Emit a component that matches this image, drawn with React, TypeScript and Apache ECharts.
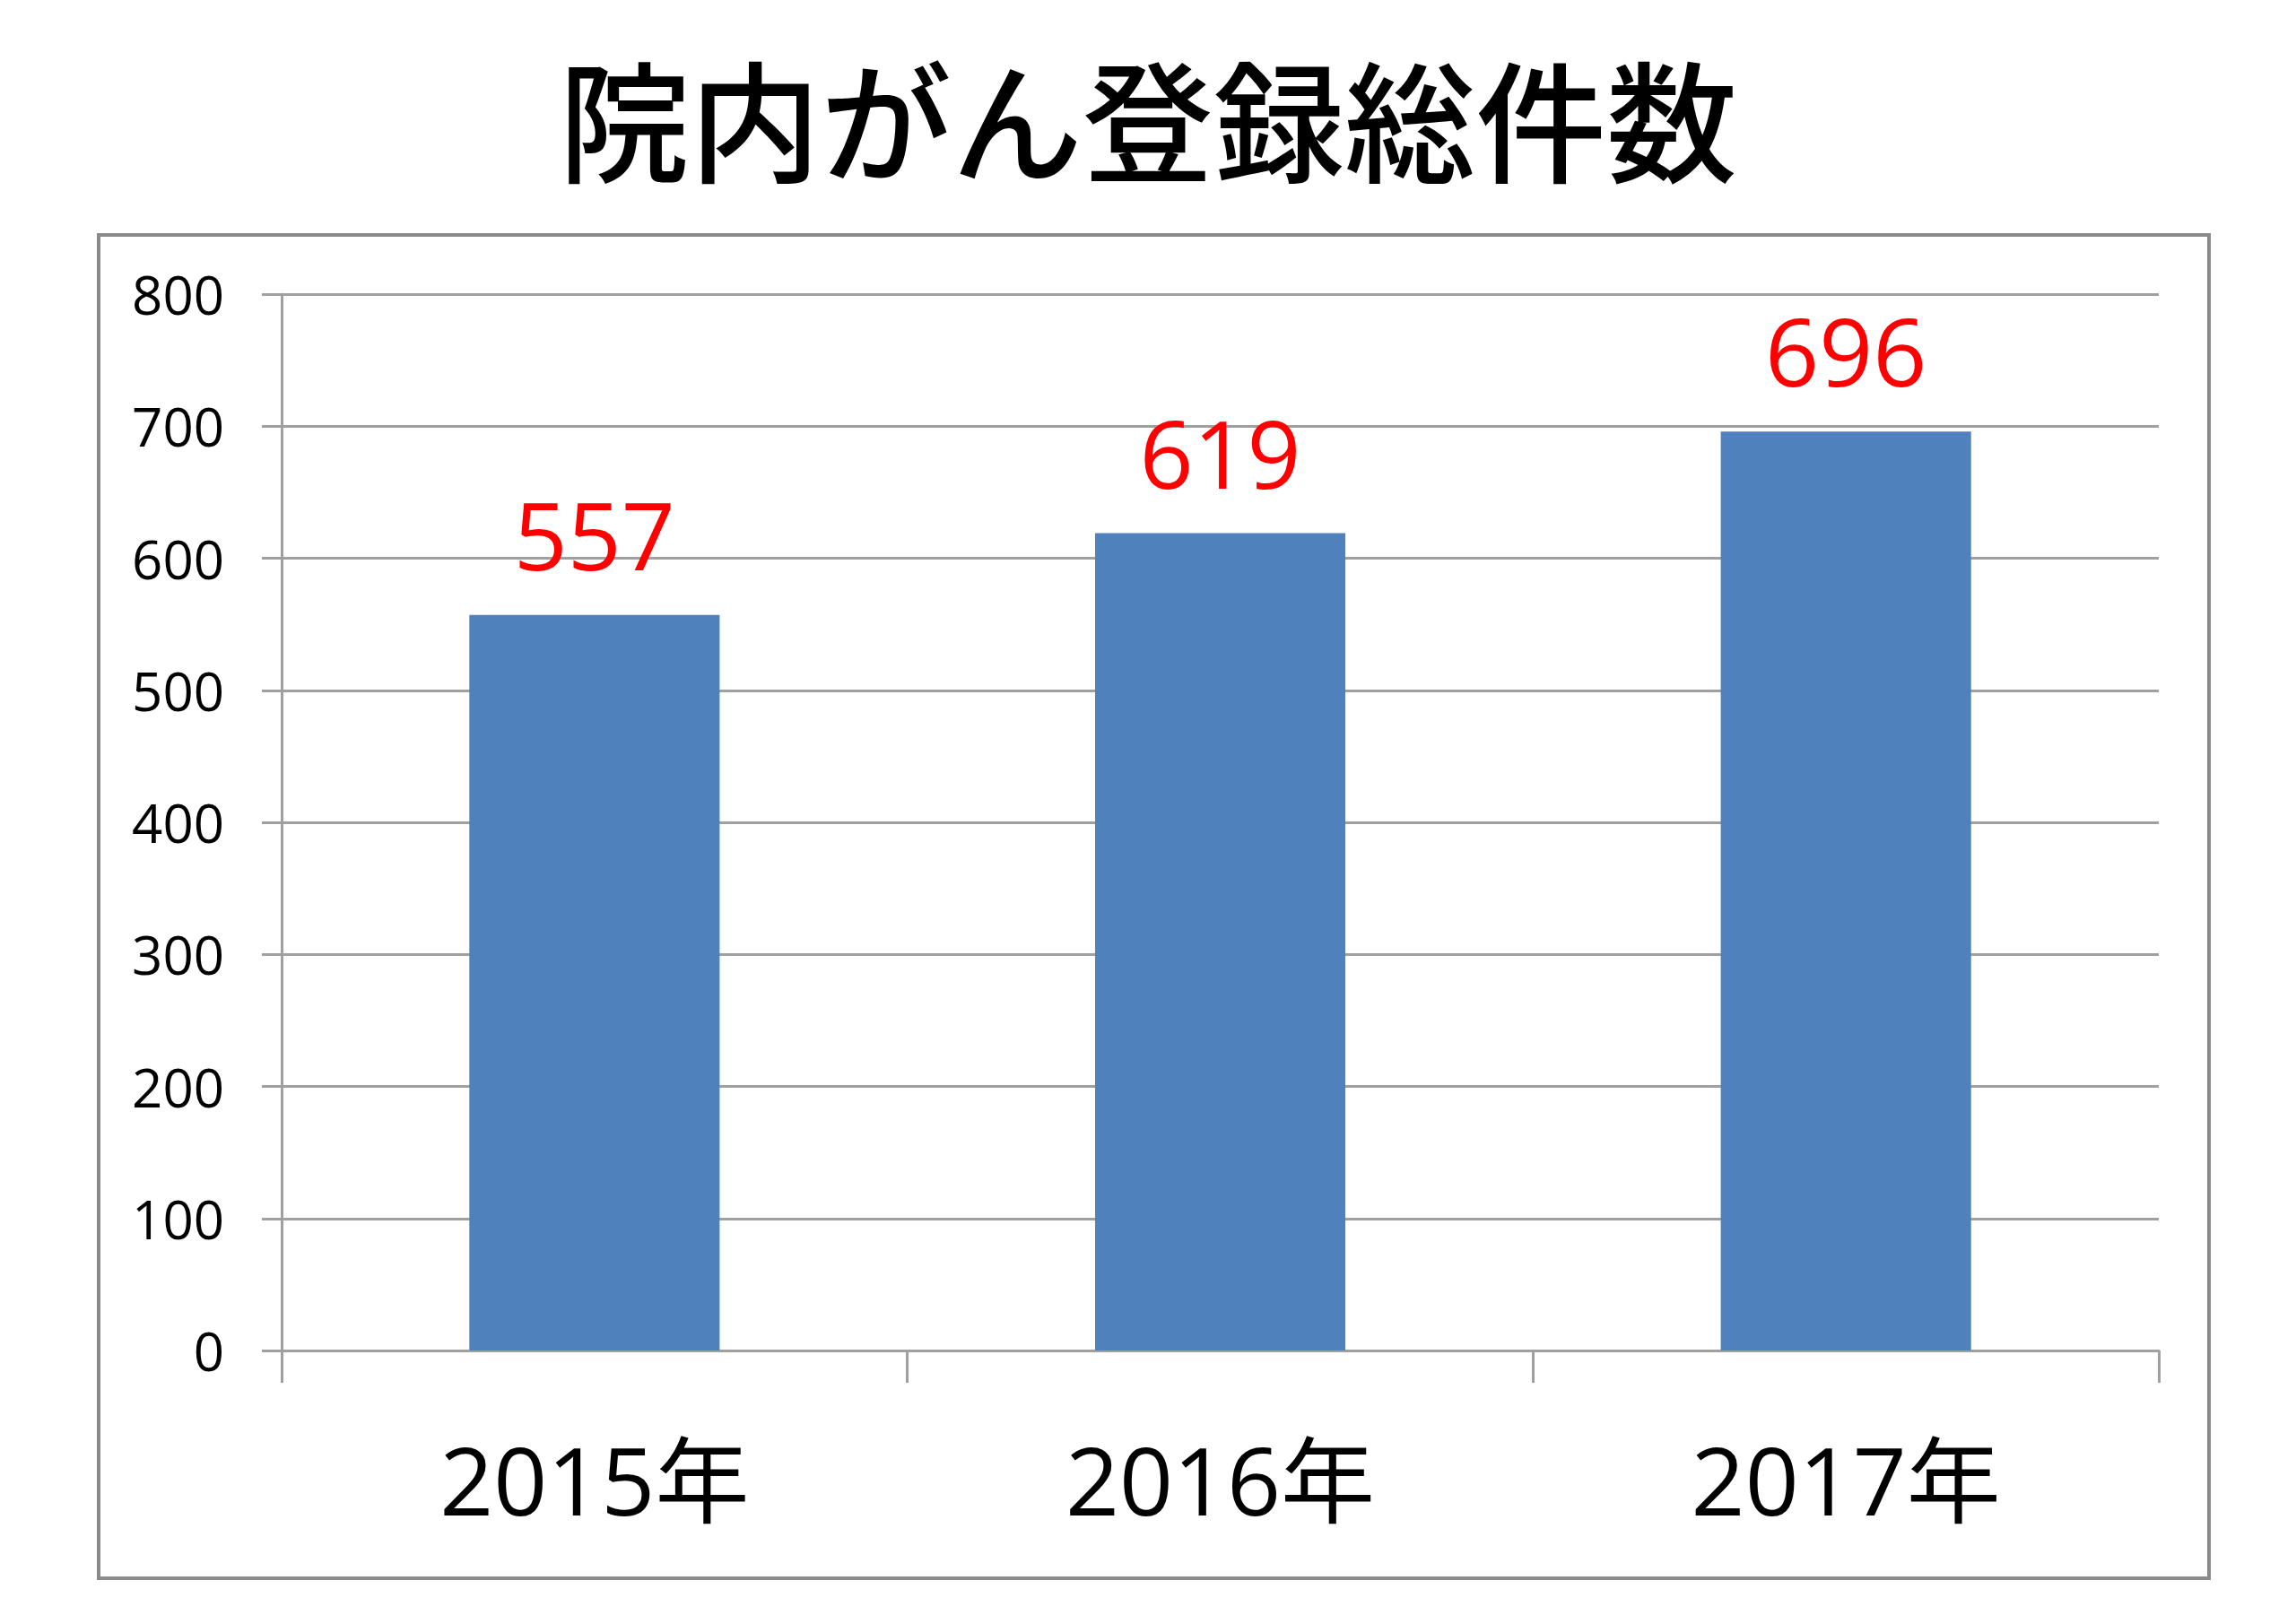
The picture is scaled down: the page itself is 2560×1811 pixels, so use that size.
import { useEffect, useRef } from "react";
import * as echarts from "echarts";

const titleText = "院内がん登録総件数";
const years = ["2015年", "2016年", "2017年"];
const counts = [557, 619, 696];
const yTicks = [0, 100, 200, 300, 400, 500, 600, 700, 800];

const numFont = "'Open Sans', 'Noto Sans CJK JP', sans-serif";

export default function App() {
  const chartRef = useRef<HTMLDivElement>(null);

  useEffect(() => {
    if (!chartRef.current) return;
    document.body.style.margin = "0";
    const chart = echarts.init(chartRef.current, undefined, { renderer: "svg" });

    const option = {
      animation: false,
      backgroundColor: "#ffffff",
      title: {
        text: titleText,
        left: "center",
        top: 50,
        textStyle: {
          fontFamily: "'Noto Sans CJK JP', sans-serif",
          fontSize: 146,
          fontWeight: 500,
          color: "#000000",
        },
      },
      graphic: [
        {
          type: "rect",
          shape: { x: 110, y: 262, width: 2353, height: 1498 },
          style: { fill: "none", stroke: "#8a8a8a", lineWidth: 4 },
          z: -1,
        },
      ],
      grid: {
        left: 314,
        right: 153,
        top: 328,
        bottom: 305,
      },
      xAxis: {
        type: "category",
        data: years,
        axisLine: { lineStyle: { color: "#a0a0a0", width: 3 } },
        axisTick: {
          show: true,
          length: 36,
          interval: 0,
          alignWithLabel: false,
          lineStyle: { color: "#a0a0a0", width: 3 },
        },
        axisLabel: {
          fontFamily: numFont,
          fontSize: 105,
          color: "#000000",
          margin: 91,
          interval: 0,
        },
        splitLine: { show: false },
      },
      yAxis: {
        type: "value",
        min: 0,
        max: 800,
        interval: 100,
        axisLine: { show: true, lineStyle: { color: "#a0a0a0", width: 3 } },
        axisTick: {
          show: true,
          length: 22,
          lineStyle: { color: "#a0a0a0", width: 3 },
        },
        axisLabel: {
          fontFamily: numFont,
          fontSize: 60,
          color: "#000000",
          margin: 64,
          formatter: (v: number) => (yTicks.includes(v) ? String(v) : ""),
        },
        splitLine: { show: true, lineStyle: { color: "#a0a0a0", width: 3 } },
      },
      series: [
        {
          type: "bar",
          data: counts,
          barWidth: "40%",
          itemStyle: { color: "#4f81bd" },
          label: {
            show: true,
            position: "top",
            distance: 38,
            fontFamily: numFont,
            fontSize: 105,
            color: "#ff0000",
          },
        },
      ],
    };

    chart.setOption(option);

    return () => {
      chart.dispose();
    };
  }, []);

  return (
    <div
      ref={chartRef}
      style={{ position: "absolute", left: 0, top: 0, width: 2560, height: 1811 }}
    />
  );
}
